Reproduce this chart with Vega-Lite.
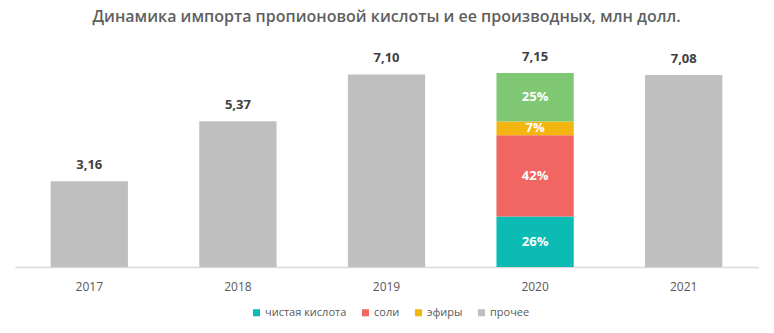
{
  "$schema": "https://vega.github.io/schema/vega-lite/v6.json",
  "width": 743,
  "height": 217,
  "autosize": {"type": "none"},
  "padding": {"left": 15, "top": 50, "right": 16, "bottom": 66},
  "background": "white",
  "config": {
    "font": "Open Sans",
    "view": {"stroke": null},
    "locale": {"number": {"decimal": ",", "thousands": " ", "grouping": [3], "currency": ["", ""]}}
  },
  "title": {
    "text": "Динамика импорта пропионовой кислоты и ее производных, млн долл.",
    "fontSize": 16,
    "fontWeight": 600,
    "color": "#5f5f5f",
    "anchor": "middle",
    "offset": 25
  },
  "datasets": {
    "parts": [
      {"year": "2017", "cat": "прочее", "ord": 4, "value": 3.16, "pct": null},
      {"year": "2018", "cat": "прочее", "ord": 4, "value": 5.37, "pct": null},
      {"year": "2019", "cat": "прочее", "ord": 4, "value": 7.10, "pct": null},
      {"year": "2020", "cat": "чистая кислота", "ord": 1, "value": 1.86, "pct": "26%"},
      {"year": "2020", "cat": "соли", "ord": 2, "value": 3.00, "pct": "42%"},
      {"year": "2020", "cat": "эфиры", "ord": 3, "value": 0.50, "pct": "7%"},
      {"year": "2020", "cat": "другие производные", "ord": 5, "value": 1.79, "pct": "25%"},
      {"year": "2021", "cat": "прочее", "ord": 4, "value": 7.08, "pct": null}
    ],
    "totals": [
      {"year": "2017", "total": 3.16},
      {"year": "2018", "total": 5.37},
      {"year": "2019", "total": 7.10},
      {"year": "2020", "total": 7.15},
      {"year": "2021", "total": 7.08}
    ]
  },
  "encoding": {
    "x": {
      "field": "year",
      "type": "nominal",
      "scale": {"paddingInner": 0.48, "paddingOuter": 0.24},
      "axis": {
        "title": null,
        "labelAngle": 0,
        "ticks": false,
        "grid": false,
        "domainColor": "#D9D9D9",
        "domainWidth": 1.5,
        "labelColor": "#595959",
        "labelFontSize": 12,
        "labelPadding": 14
      }
    }
  },
  "layer": [
    {
      "data": {"name": "parts"},
      "mark": {"type": "bar"},
      "encoding": {
        "y": {"field": "value", "type": "quantitative", "stack": "zero", "scale": {"domain": [0, 8]}, "axis": null},
        "order": {"field": "ord", "type": "quantitative"},
        "color": {
          "field": "cat",
          "type": "nominal",
          "scale": {
            "domain": ["чистая кислота", "соли", "эфиры", "прочее", "другие производные"],
            "range": ["#0BBBB4", "#F16562", "#F3B50F", "#BFBFBF", "#7FC772"]
          },
          "legend": {
            "values": ["чистая кислота", "соли", "эфиры", "прочее"],
            "title": null,
            "orient": "none",
            "legendX": 236,
            "legendY": 257,
            "direction": "horizontal",
            "symbolType": "square",
            "symbolSize": 50,
            "symbolStrokeWidth": 0,
            "symbolOffset": 0,
            "labelOffset": 3,
            "labelFontSize": 11,
            "labelColor": "#595959",
            "columnPadding": 13
          }
        }
      }
    },
    {
      "data": {"name": "parts"},
      "transform": [
        {"stack": "value", "groupby": ["year"], "sort": [{"field": "ord"}], "as": ["v0", "v1"]},
        {"filter": "datum.pct != null"},
        {"calculate": "(datum.v0 + datum.v1) / 2", "as": "mid"}
      ],
      "mark": {"type": "text", "color": "white", "fontSize": 13, "fontWeight": "bold", "baseline": "middle"},
      "encoding": {
        "y": {"field": "mid", "type": "quantitative"},
        "text": {"field": "pct"}
      }
    },
    {
      "data": {"name": "totals"},
      "mark": {"type": "text", "color": "#404040", "fontSize": 13, "fontWeight": "bold", "baseline": "bottom", "dy": -9},
      "encoding": {
        "y": {"field": "total", "type": "quantitative"},
        "text": {"field": "total", "type": "quantitative", "format": ".2f"}
      }
    }
  ]
}
